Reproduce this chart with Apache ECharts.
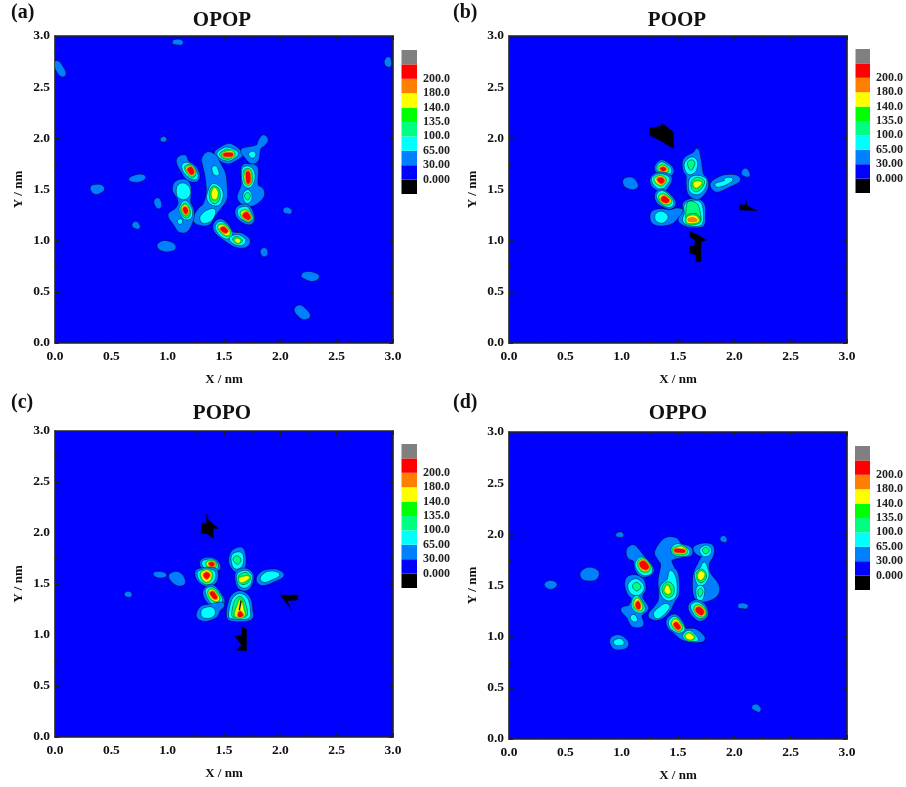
<!DOCTYPE html>
<html><head><meta charset="utf-8">
<script src="https://cdn.jsdelivr.net/npm/echarts@6/dist/echarts.min.js"></script>
<style>html,body{margin:0;padding:0;background:#fff}#c{width:906px;height:787px;filter:blur(0.35px)}</style>
</head><body><div id="c"></div>
<script>
// colour bands, lowest first
const bandColors = ['#000000','#0000ff','#0080ff','#00ffff','#00ff80','#00ff00','#ffff00','#ff8000','#ff0000','#808080'];
const bandLabels = ['0.000','30.00','65.00','100.0','135.0','140.0','180.0','200.0'];
const panelNames = ['OPOP','POOP','POPO','OPPO'];
const panelTags = ['(a)','(b)','(c)','(d)'];
const axisTicks = [0,0.5,1,1.5,2,2.5,3];
// contour lines: [band, x1,y1, x2,y2, ...] in nm
const opop = [
[2,.01,2.74,.04,2.72,.08,2.64,.06,2.62,.02,2.68],
[2,.33,1.52,.40,1.53,.42,1.50,.36,1.47],
[2,.67,1.60,.74,1.63,.79,1.62,.74,1.59],
[2,.70,1.15,.72,1.17,.74,1.13],
[2,2.2,.66,2.26,.68,2.33,.65,2.28,.62],
[2,2.14,.32,2.18,.35,2.25,.27,2.2,.25],
[2,2.94,2.75,2.96,2.78,2.97,2.72,2.95,2.72],
[2,2.04,1.29,2.06,1.31,2.09,1.28],
[2,1.05,2.94,1.1,2.95,1.12,2.93],
[2,.925,.957,.975,.983,1.045,.957,1.05,.925,.99,.91,.94,.925],
[2,.895,1.38,.915,1.40,.93,1.35,.915,1.33],
[2,1.84,.90,1.865,.91,1.87,.87,1.85,.865],
[2,.95,1.985,.965,2.0,.975,1.985],
[2,1.10,1.80,1.15,1.82,1.17,1.77,1.24,1.71,1.27,1.63,1.24,1.59,1.18,1.61,1.14,1.67,1.10,1.75],
[3,1.14,1.74,1.19,1.745,1.25,1.66,1.25,1.61,1.20,1.625,1.15,1.68],
[4,1.16,1.72,1.20,1.73,1.24,1.66,1.22,1.625,1.175,1.67],
[6,1.17,1.71,1.205,1.72,1.235,1.665,1.21,1.64,1.18,1.68],
[8,1.18,1.70,1.21,1.715,1.23,1.67,1.21,1.65,1.185,1.68],
[2,1.43,1.85,1.48,1.90,1.55,1.93,1.62,1.885,1.65,1.84,1.60,1.80,1.54,1.77,1.48,1.79],
[3,1.45,1.85,1.52,1.90,1.60,1.87,1.61,1.84,1.55,1.795,1.49,1.805],
[4,1.47,1.85,1.53,1.885,1.58,1.86,1.58,1.83,1.54,1.805,1.495,1.815],
[6,1.495,1.855,1.57,1.87,1.58,1.83,1.51,1.82],
[8,1.505,1.85,1.568,1.853,1.568,1.83,1.505,1.83],
[2,1.665,1.88,1.73,1.90,1.80,1.92,1.82,1.97,1.85,2.015,1.875,1.985,1.85,1.945,1.82,1.92,1.805,1.885,1.79,1.79,1.745,1.77,1.70,1.82],
[3,1.73,1.845,1.755,1.86,1.77,1.845,1.755,1.82],
[2,1.67,1.715,1.73,1.73,1.785,1.705,1.785,1.545,1.835,1.495,1.835,1.43,1.76,1.36,1.685,1.36,1.635,1.415,1.65,1.48,1.67,1.545],
[3,1.67,1.69,1.715,1.715,1.755,1.675,1.76,1.595,1.725,1.53,1.68,1.56],
[4,1.68,1.675,1.72,1.695,1.74,1.655,1.745,1.59,1.72,1.55,1.69,1.575],
[6,1.69,1.655,1.72,1.685,1.735,1.64,1.73,1.575,1.71,1.56,1.69,1.59],
[8,1.70,1.66,1.72,1.67,1.73,1.625,1.725,1.57,1.705,1.57],
[3,1.68,1.445,1.71,1.485,1.735,1.445,1.73,1.40,1.70,1.38],
[4,1.69,1.44,1.71,1.46,1.725,1.44,1.71,1.405],
[2,1.625,1.315,1.685,1.34,1.73,1.305,1.755,1.22,1.73,1.175,1.67,1.195,1.62,1.25],
[3,1.64,1.305,1.695,1.32,1.725,1.28,1.745,1.22,1.715,1.195,1.665,1.22,1.635,1.26],
[6,1.655,1.27,1.695,1.29,1.73,1.24,1.725,1.21,1.685,1.22],
[8,1.67,1.25,1.70,1.275,1.73,1.235,1.72,1.21,1.685,1.225],
[2,1.32,1.80,1.36,1.85,1.42,1.82,1.45,1.755,1.495,1.66,1.51,1.545,1.51,1.415,1.45,1.315,1.405,1.25,1.36,1.17,1.285,1.17,1.24,1.21,1.285,1.30,1.33,1.35,1.36,1.465,1.35,1.625,1.33,1.725],
[3,1.37,1.48,1.405,1.545,1.46,1.51,1.48,1.445,1.45,1.36,1.39,1.365,1.36,1.415],
[4,1.38,1.48,1.41,1.525,1.45,1.495,1.455,1.415,1.42,1.37,1.385,1.40],
[6,1.395,1.46,1.415,1.51,1.44,1.47,1.43,1.415,1.405,1.415],
[3,1.405,1.705,1.425,1.715,1.445,1.655,1.42,1.655],
[3,1.30,1.23,1.345,1.28,1.405,1.30,1.41,1.26,1.375,1.20,1.315,1.185],
[2,1.42,1.15,1.465,1.195,1.525,1.15,1.57,1.07,1.655,1.055,1.715,1.0,1.685,.95,1.60,.957,1.51,1.02,1.435,1.087],
[3,1.435,1.135,1.47,1.175,1.525,1.135,1.56,1.065,1.525,1.03,1.465,1.07],
[6,1.455,1.13,1.49,1.15,1.54,1.10,1.54,1.06,1.50,1.07],
[8,1.473,1.12,1.50,1.13,1.53,1.095,1.51,1.08,1.48,1.10],
[3,1.56,1.02,1.62,1.045,1.68,1.005,1.655,.967,1.60,.975],
[4,1.585,1.015,1.62,1.03,1.655,1.0,1.62,.98],
[6,1.60,1.006,1.625,1.015,1.64,.995,1.62,.985],
[2,1.08,1.565,1.155,1.58,1.19,1.525,1.19,1.43,1.185,1.38,1.215,1.30,1.215,1.22,1.17,1.11,1.11,1.10,1.065,1.17,1.02,1.25,1.08,1.30,1.11,1.365,1.095,1.43,1.06,1.495],
[3,1.095,1.525,1.14,1.55,1.185,1.51,1.185,1.445,1.14,1.415,1.095,1.445],
[3,1.115,1.315,1.155,1.38,1.205,1.30,1.20,1.23,1.155,1.22,1.125,1.265],
[4,1.125,1.315,1.155,1.36,1.19,1.30,1.185,1.24,1.155,1.235,1.13,1.27],
[6,1.13,1.315,1.157,1.345,1.183,1.30,1.175,1.26,1.15,1.265],
[8,1.14,1.31,1.157,1.325,1.175,1.295,1.165,1.265,1.15,1.28],
[3,1.10,1.19,1.115,1.20,1.12,1.18,1.105,1.175]
];
const poop = [
[0,1.25,2.10,1.355,2.12,1.355,2.15,1.46,2.06,1.46,1.90,1.355,1.97,1.25,2.03],
[0,1.606,1.088,1.65,1.07,1.754,1.006,1.704,.99,1.704,.795,1.66,.795,1.66,.86,1.606,.876,1.606,.948,1.65,.948,1.65,1.006,1.606,1.04],
[0,2.05,1.35,2.10,1.35,2.10,1.40,2.115,1.34,2.20,1.293,2.05,1.30],
[2,1.03,1.59,1.09,1.60,1.13,1.54,1.10,1.518,1.04,1.54],
[2,1.807,1.56,1.90,1.62,2.005,1.625,2.035,1.59,1.947,1.54,1.858,1.495,1.82,1.51],
[3,1.843,1.55,1.917,1.575,1.926,1.60,1.976,1.60,1.926,1.56,1.858,1.537],
[2,2.08,1.658,2.10,1.69,2.124,1.64],
[2,1.31,1.72,1.355,1.77,1.43,1.72,1.444,1.665,1.384,1.648,1.325,1.674],
[3,1.32,1.713,1.355,1.755,1.414,1.716,1.43,1.674,1.384,1.658,1.334,1.684],
[6,1.334,1.707,1.364,1.73,1.405,1.697,1.384,1.674,1.346,1.684],
[8,1.346,1.703,1.37,1.716,1.39,1.697,1.37,1.684],
[2,1.272,1.609,1.325,1.651,1.40,1.64,1.43,1.593,1.384,1.511,1.34,1.50,1.28,1.544],
[3,1.28,1.609,1.334,1.64,1.393,1.625,1.414,1.593,1.37,1.528,1.334,1.518,1.29,1.56],
[6,1.30,1.603,1.346,1.625,1.384,1.593,1.355,1.55,1.316,1.567],
[8,1.32,1.60,1.352,1.612,1.376,1.586,1.35,1.563],
[2,1.31,1.446,1.355,1.488,1.43,1.43,1.464,1.365,1.43,1.326,1.37,1.35,1.325,1.381],
[3,1.32,1.436,1.36,1.475,1.423,1.423,1.45,1.365,1.42,1.339,1.364,1.365],
[6,1.34,1.423,1.37,1.446,1.43,1.397,1.414,1.365,1.37,1.371],
[8,1.355,1.414,1.378,1.43,1.417,1.397,1.40,1.374,1.364,1.387],
[2,1.275,1.267,1.34,1.293,1.43,1.283,1.488,1.30,1.547,1.283,1.503,1.25,1.444,1.186,1.355,1.163,1.28,1.186],
[3,1.31,1.25,1.355,1.274,1.40,1.234,1.364,1.186,1.316,1.20],
[2,1.562,1.365,1.65,1.397,1.72,1.35,1.725,1.234,1.71,1.153,1.59,1.153,1.518,1.20,1.547,1.25,1.562,1.30],
[3,1.57,1.35,1.65,1.381,1.704,1.339,1.704,1.169,1.60,1.163,1.553,1.20,1.57,1.267],
[4,1.59,1.365,1.65,1.365,1.68,1.316,1.69,1.186,1.59,1.176,1.577,1.22],
[5,1.585,1.24,1.66,1.254,1.69,1.186,1.585,1.176],
[6,1.59,1.228,1.65,1.24,1.68,1.19,1.59,1.18],
[7,1.597,1.215,1.642,1.22,1.665,1.195,1.60,1.192],
[2,1.562,1.788,1.65,1.85,1.67,1.88,1.69,1.77,1.71,1.64,1.748,1.593,1.748,1.511,1.68,1.423,1.606,1.462,1.59,1.56,1.59,1.64,1.562,1.69],
[3,1.57,1.755,1.62,1.804,1.66,1.77,1.65,1.69,1.606,1.658,1.577,1.69],
[4,1.592,1.755,1.62,1.78,1.64,1.755,1.615,1.697],
[3,1.612,1.593,1.665,1.625,1.74,1.593,1.725,1.511,1.67,1.462,1.612,1.495],
[4,1.627,1.576,1.67,1.609,1.725,1.583,1.71,1.528,1.665,1.488,1.63,1.511],
[6,1.642,1.56,1.68,1.576,1.704,1.56,1.66,1.521]
];
const popo = [
[0,1.30,2.094,1.346,2.10,1.346,2.19,1.36,2.13,1.45,2.045,1.405,2.045,1.405,1.947,1.346,1.996,1.30,1.996],
[0,1.657,1.081,1.70,1.055,1.70,.846,1.606,.852,1.657,.90,1.597,.99,1.657,1.0],
[0,1.997,1.392,2.153,1.392,2.153,1.343,2.06,1.336,2.10,1.245,2.04,1.336],
[2,.887,1.598,.932,1.604,.976,1.588,.926,1.578],
[2,1.026,1.581,1.08,1.604,1.124,1.571,1.139,1.513,1.095,1.50,1.05,1.532],
[2,.63,1.395,.65,1.41,.67,1.39],
[2,1.31,1.728,1.39,1.741,1.45,1.686,1.435,1.643,1.346,1.637,1.31,1.67],
[3,1.322,1.718,1.39,1.728,1.435,1.686,1.423,1.653,1.36,1.647,1.322,1.686],
[6,1.352,1.709,1.396,1.718,1.42,1.686,1.396,1.67,1.36,1.68],
[8,1.37,1.702,1.40,1.709,1.41,1.686,1.385,1.68],
[2,1.263,1.62,1.33,1.643,1.42,1.637,1.429,1.555,1.39,1.50,1.33,1.50,1.272,1.555],
[3,1.278,1.61,1.33,1.63,1.405,1.62,1.41,1.555,1.375,1.513,1.33,1.513,1.287,1.555],
[6,1.30,1.598,1.346,1.63,1.385,1.598,1.37,1.539,1.33,1.532],
[8,1.322,1.588,1.346,1.61,1.37,1.588,1.346,1.555],
[2,1.33,1.424,1.37,1.473,1.42,1.457,1.488,1.343,1.464,1.294,1.39,1.31,1.346,1.359],
[3,1.346,1.424,1.375,1.457,1.42,1.441,1.473,1.349,1.45,1.31,1.39,1.326],
[6,1.367,1.415,1.40,1.441,1.45,1.369,1.435,1.336,1.39,1.359],
[8,1.38,1.408,1.405,1.421,1.435,1.369,1.414,1.359],
[2,1.272,1.186,1.30,1.261,1.375,1.284,1.488,1.303,1.45,1.245,1.42,1.186,1.33,1.153],
[3,1.316,1.245,1.39,1.261,1.41,1.212,1.375,1.18,1.316,1.186],
[2,1.538,1.196,1.568,1.359,1.642,1.415,1.716,1.359,1.737,1.245,1.73,1.163,1.58,1.153],
[3,1.553,1.196,1.583,1.343,1.642,1.392,1.70,1.349,1.72,1.245,1.71,1.173,1.583,1.173],
[4,1.577,1.206,1.60,1.326,1.642,1.369,1.677,1.326,1.70,1.212,1.67,1.18,1.60,1.18],
[6,1.60,1.206,1.627,1.294,1.648,1.343,1.67,1.245,1.677,1.196,1.627,1.18],
[8,1.627,1.196,1.642,1.228,1.665,1.196,1.642,1.18],
[0,1.648,1.34,1.655,1.33,1.64,1.245,1.632,1.245],
[2,1.568,1.784,1.597,1.826,1.657,1.839,1.677,1.751,1.67,1.653,1.636,1.62,1.589,1.653,1.559,1.718],
[3,1.577,1.767,1.618,1.80,1.657,1.784,1.657,1.702,1.627,1.663,1.589,1.676],
[4,1.589,1.745,1.618,1.767,1.642,1.735,1.618,1.702],
[2,1.618,1.604,1.686,1.637,1.745,1.588,1.73,1.49,1.68,1.45,1.627,1.49],
[3,1.627,1.588,1.686,1.62,1.736,1.581,1.725,1.506,1.68,1.473,1.636,1.506],
[4,1.636,1.571,1.686,1.604,1.725,1.571,1.71,1.522,1.657,1.506],
[6,1.642,1.555,1.70,1.571,1.72,1.561,1.68,1.529,1.648,1.522],
[2,1.805,1.555,1.85,1.611,1.952,1.627,2.017,1.588,1.952,1.545,1.864,1.506,1.82,1.513],
[3,1.834,1.555,1.878,1.604,1.944,1.611,1.982,1.588,1.923,1.555,1.864,1.529]
];
const oppo = [
[2,.65,1.62,.71,1.66,.78,1.63,.76,1.57,.67,1.57],
[2,.33,1.51,.37,1.53,.41,1.51,.37,1.48],
[2,2.04,1.3,2.08,1.31,2.11,1.29],
[2,2.17,.31,2.2,.32,2.22,.28],
[2,1.89,1.95,1.905,1.97,1.92,1.94],
[2,.96,1.995,.99,2.005,1.0,1.99],
[2,1.06,1.847,1.104,1.879,1.148,1.83,1.193,1.765,1.267,1.667,1.252,1.618,1.178,1.602,1.133,1.667,1.119,1.749,1.068,1.781],
[3,1.133,1.716,1.178,1.765,1.252,1.684,1.252,1.625,1.193,1.612,1.148,1.658],
[6,1.154,1.716,1.193,1.749,1.243,1.684,1.222,1.645,1.178,1.658],
[0,1.157,1.723,1.201,1.746,1.243,1.684,1.219,1.651,1.175,1.667],
[8,1.163,1.716,1.198,1.736,1.237,1.684,1.216,1.658,1.178,1.677],
[2,1.311,1.83,1.385,1.944,1.474,1.951,1.518,1.895,1.60,1.863,1.607,1.807,1.518,1.788,1.429,1.755,1.453,1.667,1.488,1.602,1.494,1.423,1.459,1.358,1.415,1.26,1.355,1.195,1.296,1.179,1.252,1.211,1.311,1.293,1.346,1.374,1.341,1.553,1.364,1.70,1.335,1.765],
[3,1.453,1.863,1.503,1.895,1.583,1.847,1.583,1.807,1.518,1.798,1.465,1.814],
[6,1.465,1.853,1.533,1.873,1.571,1.83,1.533,1.814,1.483,1.82],
[8,1.477,1.853,1.548,1.847,1.554,1.827,1.483,1.83],
[3,1.355,1.488,1.415,1.553,1.435,1.635,1.474,1.553,1.474,1.407,1.415,1.364,1.364,1.407],
[4,1.37,1.488,1.415,1.527,1.453,1.488,1.453,1.423,1.415,1.391,1.376,1.423],
[6,1.385,1.449,1.406,1.495,1.429,1.44,1.409,1.423],
[3,1.296,1.228,1.341,1.277,1.385,1.309,1.415,1.293,1.37,1.228,1.317,1.189],
[2,1.651,1.863,1.725,1.895,1.799,1.879,1.799,1.798,1.761,1.716,1.77,1.618,1.844,1.505,1.844,1.423,1.784,1.374,1.695,1.358,1.651,1.423,1.651,1.602,1.695,1.716,1.725,1.788,1.681,1.814],
[3,1.704,1.847,1.749,1.879,1.784,1.847,1.77,1.807,1.731,1.798],
[4,1.725,1.847,1.749,1.863,1.77,1.84,1.743,1.82],
[3,1.66,1.618,1.71,1.667,1.731,1.716,1.755,1.651,1.761,1.586,1.725,1.521,1.681,1.521],
[4,1.672,1.618,1.71,1.651,1.74,1.618,1.74,1.57,1.71,1.537,1.681,1.553],
[6,1.681,1.602,1.704,1.635,1.731,1.609,1.71,1.563,1.687,1.57],
[3,1.672,1.456,1.695,1.488,1.725,1.456,1.71,1.374,1.681,1.374],
[4,1.684,1.44,1.699,1.462,1.713,1.44,1.695,1.397],
[2,1.613,1.309,1.666,1.342,1.731,1.299,1.749,1.211,1.695,1.169,1.642,1.211,1.613,1.26],
[3,1.625,1.299,1.672,1.325,1.725,1.286,1.74,1.221,1.701,1.189,1.651,1.228],
[6,1.651,1.277,1.687,1.299,1.734,1.25,1.719,1.205,1.675,1.228],
[8,1.66,1.267,1.687,1.286,1.725,1.25,1.71,1.215,1.675,1.237],
[2,1.06,1.57,1.119,1.586,1.178,1.553,1.199,1.472,1.169,1.407,1.178,1.358,1.222,1.277,1.163,1.211,1.178,1.12,1.104,1.114,1.06,1.195,1.009,1.267,1.074,1.293,1.104,1.374,1.068,1.423,1.045,1.505],
[3,1.068,1.505,1.119,1.553,1.169,1.521,1.187,1.472,1.148,1.417,1.089,1.433],
[4,1.104,1.495,1.133,1.521,1.163,1.488,1.133,1.456],
[3,1.098,1.325,1.133,1.391,1.187,1.309,1.193,1.26,1.157,1.244,1.113,1.27],
[6,1.113,1.319,1.139,1.368,1.175,1.309,1.169,1.267,1.133,1.277],
[8,1.127,1.309,1.145,1.342,1.163,1.299,1.148,1.27],
[3,1.089,1.189,1.11,1.202,1.128,1.163,1.104,1.163],
[2,1.415,1.163,1.474,1.202,1.533,1.13,1.562,1.065,1.651,1.058,1.725,.983,1.666,.961,1.548,.983,1.474,1.049,1.423,1.097],
[3,1.429,1.146,1.474,1.185,1.527,1.123,1.548,1.071,1.503,1.049,1.444,1.088],
[6,1.453,1.136,1.483,1.162,1.527,1.097,1.503,1.065,1.465,1.097],
[8,1.465,1.117,1.488,1.136,1.518,1.091,1.497,1.075],
[3,1.554,1.01,1.601,1.049,1.666,.98,1.651,.967,1.583,.974],
[6,1.571,1.006,1.601,1.026,1.636,.993,1.601,.977],
[2,.912,.967,.971,1.0,1.039,.951,1.03,.902,.941,.895],
[3,.941,.951,.985,.967,1.009,.935,.956,.928]
];
const panelContours = [opop, poop, popo, oppo];

const FONT = '"Liberation Serif","Times New Roman",serif';
const plotBoxes = [[55,36,338,307],[509,36,338,307],[55,431,338,306],[509,432,338,307]];
const legendBoxes = [[401.5,50],[855.5,49],[401.5,444],[855,446]];
const titleSpots = [[222,10],[677,10],[222,403],[678,403]];
const tagSpots = [[11,3],[453,3],[11,393],[453,393]];
const bandSwell = [0,0,2,1.5,1,1,.7,.7,.5,0];

const grid=[],xAxis=[],yAxis=[],series=[],title=[];
const axisLine={show:true,onZero:false,lineStyle:{color:'#222',width:1.6}};
const tick={show:true,inside:true,length:4,lineStyle:{color:'#222',width:1}};
const minor={show:true,splitNumber:2,length:2.5,lineStyle:{color:'#222',width:1}};
const lab={fontFamily:FONT,fontWeight:'bold',fontSize:13.5,color:'#111'};

// closed curve through the projected contour vertices, pushed out a little
function rounded(pts,swell){
  const n=pts.length, out=[];
  for(let i=0;i<n;i++){
    const a=pts[(i+n-1)%n],b=pts[i],c=pts[(i+1)%n],d=pts[(i+2)%n];
    for(let s=0;s<5;s++){
      const t=s/5,t2=t*t,t3=t2*t;
      out.push([0,1].map(j=>.5*(2*b[j]+(c[j]-a[j])*t+(2*a[j]-5*b[j]+4*c[j]-d[j])*t2+(3*b[j]-a[j]-3*c[j]+d[j])*t3)));
    }
  }
  let area=0; const m=out.length;
  for(let i=0;i<m;i++){const p=out[i],q=out[(i+1)%m];area+=p[0]*q[1]-q[0]*p[1];}
  const sgn=area>0?1:-1;
  return out.map((p,i)=>{
    const u=out[(i+m-1)%m],v=out[(i+1)%m];
    const dx=v[0]-u[0],dy=v[1]-u[1],len=Math.hypot(dx,dy)||1;
    return [p[0]+sgn*swell*dy/len,p[1]-sgn*swell*dx/len];
  });
}
function contourItem(c){
  return function(params,api){
    const k=c[params.dataIndex]; let pts=[];
    for(let i=1;i<k.length;i+=2) pts.push(api.coord([k[i],k[i+1]]));
    const band=k[0], kids=[];
    if(band!==0) pts=rounded(pts,bandSwell[band]);
    if(band===6) kids.push({type:'polygon',shape:{points:pts},style:{fill:null,stroke:'#00e040',lineWidth:3}});
    if(band===8) kids.push({type:'polygon',shape:{points:pts},style:{fill:null,stroke:'#ff9000',lineWidth:2.2}});
    kids.push({type:'polygon',shape:{points:pts},style:{fill:bandColors[band],stroke:band>=6?'rgba(0,0,0,.2)':'rgba(0,0,20,.75)',lineWidth:.6}});
    return {type:'group',children:kids};
  };
}

panelNames.forEach((name,p)=>{
  const [l,t,w,h]=plotBoxes[p];
  grid.push({left:l,top:t,width:w,height:h,show:true,backgroundColor:bandColors[1],borderWidth:0});
  const g=grid.length-1, xi=xAxis.length, yi=yAxis.length;
  const common={min:axisTicks[0],max:axisTicks[axisTicks.length-1],interval:axisTicks[1]-axisTicks[0],splitLine:{show:false},axisLine,axisTick:tick,minorTick:minor};
  xAxis.push({...common,type:'value',gridIndex:g,position:'bottom',name:'X / nm',nameLocation:'middle',nameGap:30,
    nameTextStyle:{...lab,fontSize:13},axisLabel:{...lab,margin:7,formatter:v=>v.toFixed(1)}});
  xAxis.push({...common,type:'value',gridIndex:g,position:'top',axisLabel:{show:false}});
  yAxis.push({...common,type:'value',gridIndex:g,position:'left',name:'Y / nm',nameLocation:'middle',nameGap:31,nameRotate:90,
    nameTextStyle:{...lab,fontSize:13,padding:[0,0,-1,0]},axisLabel:{...lab,margin:5,formatter:v=>v.toFixed(1)}});
  yAxis.push({...common,type:'value',gridIndex:g,position:'right',axisLabel:{show:false}});
  const c=panelContours[p];
  series.push({type:'custom',name,xAxisIndex:xi,yAxisIndex:yi,clip:true,silent:true,animation:false,
    encode:{x:0,y:1},data:c.map(k=>[k[1],k[2]]),renderItem:contourItem(c)});
  title.push({text:name,left:titleSpots[p][0],top:titleSpots[p][1],textAlign:'center',padding:0,
    textStyle:{fontFamily:FONT,fontWeight:'bold',fontSize:21,color:'#111'}});
  title.push({text:panelTags[p],left:tagSpots[p][0],top:tagSpots[p][1],padding:0,
    textStyle:{fontFamily:FONT,fontWeight:'bold',fontSize:20,color:'#111'}});

  // colour key
  const [ll,lt]=legendBoxes[p];
  grid.push({left:ll,top:lt,width:15.5,height:144});
  const lg=grid.length-1, lx=xAxis.length, ly=yAxis.length;
  xAxis.push({type:'value',gridIndex:lg,min:0,max:1,show:false});
  yAxis.push({type:'value',gridIndex:lg,position:'right',min:0,max:bandColors.length,interval:1,
    axisLine:{show:false},axisTick:{show:false},splitLine:{show:false},
    axisLabel:{fontFamily:FONT,fontWeight:'bold',fontSize:12,color:'#222',margin:6,align:'left',
      formatter:v=>bandLabels[v-1]||''}});
  series.push({type:'custom',name:name+' key',xAxisIndex:lx,yAxisIndex:ly,silent:true,animation:false,
    encode:{x:0,y:1},data:bandColors.map((col,i)=>[0,i]),
    renderItem:(params,api)=>{
      const i=api.value(1), a=api.coord([0,i+1]), b=api.coord([1,i]);
      return {type:'rect',shape:{x:a[0],y:a[1],width:b[0]-a[0],height:b[1]-a[1]},style:{fill:bandColors[i]}};
    }});
});
const chart=echarts.init(document.getElementById('c'),null,{renderer:'canvas'});
chart.setOption({animation:false,backgroundColor:'#fff',title,grid,xAxis,yAxis,series});
</script></body></html>
